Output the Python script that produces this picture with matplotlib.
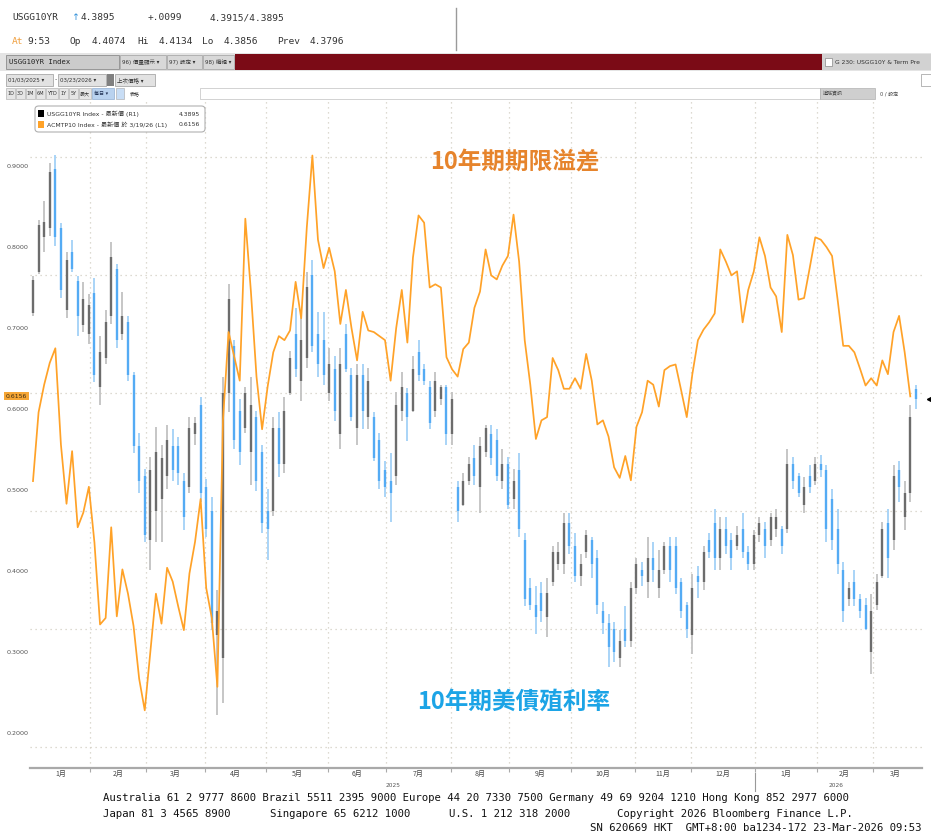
import numpy as np
import pandas as pd
import matplotlib
matplotlib.use('Agg')
import matplotlib.pyplot as plt
import matplotlib.transforms as mtransforms
from matplotlib.patches import Rectangle, FancyBboxPatch

plt.rcParams['font.family'] = ['DejaVu Sans', 'Noto Sans CJK TC']

# ---- data (one bar per two sessions) ----
first_day = '2025-01-03'
last_day = '2026-03-23'

yld_low = [4.530, 4.602, 4.640, 4.667, 4.650, 4.561, 4.527, 4.606, 4.496, 4.503,
           4.483, 4.418, 4.380, 4.449, 4.517, 4.476, 4.490, 4.421, 4.298, 4.230,
           4.148, 4.100, 4.148, 4.148, 4.237, 4.250, 4.244, 4.168, 4.230, 4.312,
           4.216, 4.155, 3.998, 3.854, 3.875, 4.367, 4.305, 4.278, 4.332, 4.244,
           4.233, 4.162, 4.117, 4.192, 4.257, 4.264, 4.397, 4.428, 4.387, 4.442,
           4.469, 4.428, 4.414, 4.387, 4.353, 4.305, 4.435, 4.353, 4.312, 4.339,
           4.339, 4.285, 4.237, 4.223, 4.182, 4.244, 4.353, 4.319, 4.367, 4.421,
           4.414, 4.339, 4.360, 4.380, 4.312, 4.312, 4.182, 4.209, 4.244, 4.244,
           4.196, 4.291, 4.278, 4.250, 4.237, 4.203, 4.203, 4.155, 4.039, 4.032,
           3.991, 4.011, 3.987, 4.073, 4.100, 4.093, 4.127, 4.080, 4.073, 4.121,
           4.087, 4.025, 3.991, 3.936, 3.943, 3.936, 3.970, 3.970, 4.059, 4.073,
           4.052, 4.080, 4.052, 4.093, 4.080, 4.059, 4.018, 3.984, 3.957, 4.052,
           4.066, 4.121, 4.100, 4.100, 4.127, 4.100, 4.134, 4.121, 4.100, 4.100,
           4.148, 4.121, 4.141, 4.155, 4.127, 4.162, 4.237, 4.223, 4.196, 4.230,
           4.244, 4.257, 4.148, 4.134, 4.093, 4.011, 4.039, 4.039, 4.018, 3.998,
           3.923, 4.032, 4.087, 4.087, 4.134, 4.216, 4.168, 4.216, 4.373]

yld_high = [4.599, 4.694, 4.725, 4.790, 4.804, 4.688, 4.640, 4.660, 4.599, 4.589,
            4.568, 4.595, 4.496, 4.541, 4.657, 4.619, 4.571, 4.530, 4.435, 4.332,
            4.271, 4.291, 4.343, 4.312, 4.346, 4.339, 4.326, 4.264, 4.360, 4.360,
            4.394, 4.254, 4.223, 4.066, 4.428, 4.585, 4.490, 4.390, 4.411, 4.428,
            4.370, 4.312, 4.237, 4.360, 4.367, 4.394, 4.472, 4.544, 4.537, 4.606,
            4.626, 4.537, 4.537, 4.476, 4.462, 4.476, 4.517, 4.442, 4.449, 4.449,
            4.442, 4.367, 4.332, 4.285, 4.298, 4.401, 4.435, 4.408, 4.462, 4.490,
            4.449, 4.421, 4.435, 4.414, 4.414, 4.401, 4.250, 4.264, 4.291, 4.312,
            4.326, 4.346, 4.346, 4.339, 4.305, 4.291, 4.271, 4.298, 4.162, 4.087,
            4.073, 4.080, 4.087, 4.141, 4.148, 4.196, 4.196, 4.162, 4.127, 4.168,
            4.155, 4.134, 4.046, 4.025, 4.011, 3.998, 4.039, 4.080, 4.121, 4.114,
            4.155, 4.148, 4.134, 4.148, 4.155, 4.155, 4.087, 4.046, 4.093, 4.107,
            4.141, 4.162, 4.203, 4.189, 4.189, 4.162, 4.175, 4.196, 4.141, 4.168,
            4.189, 4.182, 4.196, 4.203, 4.175, 4.305, 4.291, 4.264, 4.257, 4.278,
            4.291, 4.295, 4.278, 4.237, 4.203, 4.114, 4.080, 4.100, 4.059, 4.052,
            4.059, 4.093, 4.182, 4.203, 4.278, 4.285, 4.250, 4.380, 4.413]

yld_open = [4.535, 4.605, 4.665, 4.680, 4.780, 4.680, 4.540, 4.640, 4.590, 4.515,
            4.500, 4.570, 4.410, 4.460, 4.530, 4.610, 4.500, 4.520, 4.430, 4.310,
            4.260, 4.150, 4.200, 4.220, 4.260, 4.310, 4.310, 4.250, 4.240, 4.330,
            4.380, 4.240, 4.200, 3.990, 3.950, 4.400, 4.480, 4.370, 4.340, 4.300,
            4.360, 4.300, 4.200, 4.200, 4.340, 4.280, 4.400, 4.500, 4.420, 4.460,
            4.600, 4.500, 4.490, 4.400, 4.440, 4.330, 4.500, 4.430, 4.340, 4.430,
            4.360, 4.360, 4.320, 4.270, 4.250, 4.260, 4.370, 4.400, 4.370, 4.470,
            4.440, 4.410, 4.370, 4.390, 4.410, 4.330, 4.240, 4.210, 4.250, 4.290,
            4.240, 4.300, 4.330, 4.320, 4.250, 4.280, 4.220, 4.270, 4.150, 4.070,
            4.040, 4.060, 4.020, 4.080, 4.110, 4.110, 4.180, 4.140, 4.090, 4.130,
            4.150, 4.120, 4.030, 4.010, 4.000, 3.950, 4.000, 3.980, 4.070, 4.100,
            4.080, 4.120, 4.070, 4.100, 4.140, 4.140, 4.080, 4.040, 3.990, 4.090,
            4.080, 4.150, 4.180, 4.120, 4.170, 4.150, 4.140, 4.170, 4.130, 4.110,
            4.160, 4.170, 4.150, 4.170, 4.170, 4.170, 4.280, 4.260, 4.210, 4.260,
            4.250, 4.280, 4.270, 4.220, 4.170, 4.100, 4.050, 4.080, 4.050, 4.040,
            3.960, 4.040, 4.090, 4.180, 4.150, 4.270, 4.190, 4.230, 4.407]

yld_close = [4.592, 4.685, 4.690, 4.775, 4.665, 4.575, 4.625, 4.610, 4.530, 4.560,
             4.550, 4.430, 4.470, 4.520, 4.630, 4.490, 4.530, 4.430, 4.310, 4.250,
             4.160, 4.270, 4.300, 4.290, 4.320, 4.270, 4.265, 4.190, 4.340, 4.350,
             4.230, 4.170, 4.010, 4.030, 4.400, 4.560, 4.320, 4.300, 4.400, 4.380,
             4.250, 4.180, 4.170, 4.340, 4.280, 4.370, 4.460, 4.440, 4.490, 4.580,
             4.480, 4.450, 4.430, 4.450, 4.370, 4.450, 4.440, 4.360, 4.430, 4.370,
             4.420, 4.290, 4.250, 4.240, 4.230, 4.380, 4.410, 4.360, 4.440, 4.430,
             4.420, 4.350, 4.420, 4.410, 4.330, 4.390, 4.200, 4.250, 4.280, 4.260,
             4.310, 4.340, 4.290, 4.260, 4.280, 4.210, 4.250, 4.170, 4.050, 4.040,
             4.020, 4.030, 4.060, 4.130, 4.130, 4.180, 4.140, 4.090, 4.110, 4.160,
             4.110, 4.040, 4.010, 3.970, 3.960, 3.980, 3.980, 4.070, 4.110, 4.090,
             4.120, 4.100, 4.100, 4.140, 4.100, 4.070, 4.030, 4.000, 4.070, 4.080,
             4.130, 4.130, 4.120, 4.170, 4.140, 4.120, 4.160, 4.130, 4.110, 4.160,
             4.180, 4.140, 4.190, 4.190, 4.140, 4.280, 4.250, 4.230, 4.240, 4.240,
             4.280, 4.270, 4.170, 4.150, 4.110, 4.030, 4.070, 4.050, 4.030, 4.000,
             4.030, 4.080, 4.170, 4.120, 4.260, 4.240, 4.230, 4.360, 4.390]

# ACM 10y term premium, last print 3/19/26
term_premium = [0.511, 0.596, 0.630, 0.657, 0.675, 0.556, 0.483, 0.548, 0.454, 0.472,
                0.504, 0.435, 0.334, 0.342, 0.454, 0.344, 0.402, 0.372, 0.332, 0.267,
                0.228, 0.300, 0.372, 0.335, 0.404, 0.387, 0.356, 0.327, 0.397, 0.436,
                0.489, 0.379, 0.342, 0.257, 0.586, 0.695, 0.665, 0.635, 0.835, 0.745,
                0.640, 0.575, 0.628, 0.670, 0.690, 0.685, 0.697, 0.757, 0.712, 0.824,
                0.913, 0.809, 0.774, 0.799, 0.770, 0.705, 0.747, 0.700, 0.660, 0.720,
                0.697, 0.695, 0.690, 0.685, 0.635, 0.700, 0.747, 0.682, 0.787, 0.839,
                0.830, 0.750, 0.754, 0.750, 0.664, 0.649, 0.640, 0.674, 0.682, 0.725,
                0.745, 0.797, 0.765, 0.760, 0.777, 0.789, 0.840, 0.782, 0.685, 0.630,
                0.563, 0.586, 0.590, 0.663, 0.648, 0.625, 0.625, 0.638, 0.625, 0.668,
                0.635, 0.581, 0.586, 0.566, 0.528, 0.515, 0.542, 0.512, 0.578, 0.596,
                0.635, 0.630, 0.603, 0.648, 0.653, 0.655, 0.623, 0.590, 0.643, 0.685,
                0.698, 0.707, 0.718, 0.797, 0.782, 0.765, 0.770, 0.707, 0.747, 0.770,
                0.812, 0.789, 0.750, 0.739, 0.695, 0.815, 0.790, 0.735, 0.737, 0.774,
                0.812, 0.809, 0.800, 0.789, 0.735, 0.678, 0.678, 0.670, 0.650, 0.629,
                0.638, 0.629, 0.660, 0.643, 0.695, 0.715, 0.670, 0.6156]

tp_ticks = [0.2, 0.3, 0.4, 0.5, 0.6, 0.7, 0.8, 0.9]
yld_ticks = [3.8, 4.0, 4.2, 4.4, 4.6, 4.8]
last_yield = 4.3895
last_tp = 0.6156

W, H = 931, 832
MONO = 'DejaVu Sans Mono'
CJK = ['DejaVu Sans', 'Noto Sans CJK TC']


def box(x0, y0, x1, y1, **kw):
    fig.add_artist(Rectangle((x0 / W, 1 - y1 / H), (x1 - x0) / W, (y1 - y0) / H,
                             transform=fig.transFigure, **kw))


def label(x, y, s, **kw):
    kw.setdefault('va', 'center')
    fig.text(x / W, 1 - y / H, s, **kw)


# session calendar (Bloomberg squeezes out weekends)
days = pd.bdate_range(first_day, last_day)
bar_dates = pd.bdate_range(end=last_day, periods=len(yld_close), freq='2B')
pos = days.get_indexer(bar_dates).astype(float)
tp_pos = pos[:len(term_premium)]

lo = np.array(yld_low)
hi = np.array(yld_high)
op = np.array(yld_open)
cl = np.array(yld_close)
up = cl >= op

fig = plt.figure(figsize=(W / 100, H / 100), dpi=100)
ax = fig.add_axes([30 / W, 1 - 768 / H, 892 / W, 668 / H])
ax_tp = ax.twinx()

ax.set_xlim(-1.07, 318.2)
ax.set_ylim(3.764, 4.897)
ax_tp.set_ylim(0.1568, 0.9815)

# yield bars
ax.vlines(pos[up], lo[up], hi[up], color='#c2c2c2', lw=1.3)
ax.vlines(pos[up], op[up], cl[up], color='#6c6c6c', lw=1.7)
ax.vlines(pos[~up], lo[~up], hi[~up], color='#a3d1f7', lw=1.3)
ax.vlines(pos[~up], cl[~up], op[~up], color='#54abf4', lw=1.7)

# term premium
ax_tp.plot(tp_pos, term_premium, color='#ffa228', lw=1.25)

# month axis
per = days.to_period('M')
months = per.unique()
starts = np.array([np.where(per == m)[0][0] for m in months])
ends = np.array([np.where(per == m)[0][-1] for m in months])
centers = (starts + ends) / 2
ax.set_xticks(starts[1:] - 0.5)
ax.set_xticklabels([])
ax.set_xticks(centers, minor=True)
ax.set_xticklabels([f'{m.month}月' for m in months], minor=True,
                   fontsize=5, color='#444444', family=['Noto Sans CJK TC'])
ax.tick_params(axis='x', which='major', length=3, color='#aaaaaa', direction='out')
ax.tick_params(axis='x', which='minor', length=0, pad=1.5)

# year labels and year divider
xb = mtransforms.blended_transform_factory(ax.transData, ax.transAxes)
years = days.year
for yr in np.unique(years):
    idx = np.where(years == yr)[0]
    ax.text((idx[0] + idx[-1]) / 2, -0.026, str(yr), transform=xb,
            ha='center', va='center', fontsize=4.2, color='#555555')
for s, m in zip(starts, months):
    if m.month == 1 and s > 0:
        ax.plot([s - 0.5, s - 0.5], [-0.008, -0.034], transform=xb,
                color='#999999', lw=0.8, clip_on=False)

# grids
dot = dict(color='#d3cfc2', linestyle=(0, (1, 3)), lw=0.9)
ax.set_yticks(yld_ticks)
ax.yaxis.tick_right()
ax.tick_params(axis='y', length=0, labelright=False)
ax.grid(axis='y', **dot)
ax.grid(axis='x', which='major', **dot)
ax.set_axisbelow(True)

ax_tp.set_yticks(tp_ticks)
ax_tp.yaxis.tick_left()
ax_tp.set_yticklabels([f'{t:.4f}' for t in tp_ticks], fontsize=4.6, color='#555555')
ax_tp.tick_params(axis='y', length=0, pad=1)

for a in (ax, ax_tp):
    for side in ('top', 'left', 'right', 'bottom'):
        a.spines[side].set_visible(False)
ax.spines['bottom'].set_visible(True)
ax.spines['bottom'].set_color('#a9a9a9')
ax.spines['bottom'].set_linewidth(1.6)

# last value flags
yb = mtransforms.blended_transform_factory(ax_tp.transAxes, ax_tp.transData)
ax_tp.text(-0.003, last_tp, f'{last_tp:.4f}', transform=yb, ha='right', va='center',
           fontsize=4.4, color='#3a2a10',
           bbox=dict(boxstyle='square,pad=0.25', fc='#f6a635', ec='none'))
yb2 = mtransforms.blended_transform_factory(ax.transAxes, ax.transData)
ax.plot([1.008], [last_yield], marker='<', ms=3, color='black', transform=yb2,
        clip_on=False)

# chart titles
label(515, 163, '10年期期限溢差', color='#e6842c', fontsize=17, fontweight='bold',
      family=['Noto Sans CJK TC'], ha='center')
label(514, 702, '10年期美債殖利率', color='#1ca4e6', fontsize=17, fontweight='bold',
      family=['Noto Sans CJK TC'], ha='center')

# legend box
fig.add_artist(FancyBboxPatch((35 / W, 1 - 132 / H), 170 / W, 26 / H,
                              boxstyle='round,pad=0,rounding_size=0.004',
                              transform=fig.transFigure, fc='white', ec='#b0b0b0', lw=0.8))
box(38, 110, 44, 117, fc='black', ec='none')
box(38, 121, 44, 128, fc='#ffa228', ec='none')
label(47, 114, 'USGG10YR Index - 最新價 (R1)', fontsize=4.4, family=CJK, color='#333333')
label(200, 114, '4.3895', fontsize=4.4, color='#333333', ha='right')
label(47, 125, 'ACMTP10 Index - 最新價 於 3/19/26 (L1)', fontsize=4.4, family=CJK,
      color='#333333')
label(200, 125, '0.6156', fontsize=4.4, color='#333333', ha='right')

# ---- terminal header ----
hdr = dict(family=MONO, fontsize=6.8, color='#333333')
label(12, 18, 'USGG10YR', **hdr)
label(71, 18, '↑', family='DejaVu Sans', fontsize=6.8, color='#2f8fd8')
label(81, 18, '4.3895', **hdr)
label(148, 18, '+.0099', **hdr)
label(210, 18, '4.3915/4.3895', **hdr)
label(12, 41, 'At', family=MONO, fontsize=6.8, color='#f0a040')
label(27, 41, '9:53', **hdr)
label(70, 41, 'Op', **hdr)
label(92, 41, '4.4074', **hdr)
label(137, 41, 'Hi', **hdr)
label(159, 41, '4.4134', **hdr)
label(202, 41, 'Lo', **hdr)
label(224, 41, '4.3856', **hdr)
label(277, 41, 'Prev', **hdr)
label(310, 41, '4.3796', **hdr)
fig.add_artist(plt.Line2D([456 / W, 456 / W], [1 - 8 / H, 1 - 50 / H],
                          transform=fig.transFigure, color='#9a9a9a', lw=1))

# toolbar rows
box(0, 53, W, 71, fc='#e4e4e4', ec='none')
box(6, 55, 119, 69, fc='#cbcbcb', ec='#8c8c8c', lw=0.6)
label(9, 62, 'USGG10YR Index', family=MONO, fontsize=5.2, color='#222222')
for x0, x1, s in [(120, 166, '96) 價量顯示 ▾'), (167, 202, '97) 設定 ▾'), (203, 234, '98) 編輯 ▾')]:
    box(x0, 55, x1, 69, fc='#d8d8d8', ec='#a0a0a0', lw=0.5)
    label(x0 + 2, 62, s, family=CJK, fontsize=4.0, color='#333333')
box(235, 54, 822, 70, fc='#7b0b16', ec='none')
box(822, 54, W, 70, fc='#d2d2d2', ec='none')
box(825, 58, 832, 66, fc='white', ec='#888888', lw=0.5)
label(835, 62, 'G 230: USGG10Y & Term Pre', fontsize=4.3, color='#333333')

box(0, 71, W, 101, fc='white', ec='none')
box(6, 74, 53, 86, fc='#e2e2e2', ec='#9a9a9a', lw=0.5)
label(8, 80, '01/03/2025 ▾', fontsize=4.0, color='#333333')
label(55, 80, '-', fontsize=4.5, color='#333333')
box(58, 74, 106, 86, fc='#e2e2e2', ec='#9a9a9a', lw=0.5)
label(60, 80, '03/23/2026 ▾', fontsize=4.0, color='#333333')
box(107, 74, 114, 86, fc='#808080', ec='none')
box(115, 74, 155, 86, fc='#e2e2e2', ec='#9a9a9a', lw=0.5)
label(117, 80, '上次價格 ▾', family=CJK, fontsize=4.0, color='#333333')
box(921, 74, W, 86, fc='white', ec='#9a9a9a', lw=0.5)

bx = 6
for s, w in [('1D', 9), ('3D', 9), ('1M', 9), ('6M', 9), ('YTD', 12), ('1Y', 9),
             ('5Y', 9), ('最大', 12)]:
    box(bx, 88, bx + w, 99, fc='#e6e6e6', ec='#a5a5a5', lw=0.4)
    label(bx + w / 2, 93.5, s, family=CJK, fontsize=3.6, color='#333333', ha='center')
    bx += w + 1
box(bx, 88, bx + 22, 99, fc='#b9d2ef', ec='#7f9fc8', lw=0.4)
label(bx + 2, 93.5, '每日 ▾', family=CJK, fontsize=3.6, color='#223355')
box(bx + 24, 88, bx + 32, 99, fc='#c8ddf5', ec='#a5a5a5', lw=0.4)
label(bx + 38, 93.5, '表格', family=CJK, fontsize=3.6, color='#333333')
box(200, 88, 820, 99, fc='white', ec='#c0c0c0', lw=0.5)
box(820, 88, 875, 99, fc='#cfcfcf', ec='#a5a5a5', lw=0.4)
label(823, 93.5, '追蹤資訊', family=CJK, fontsize=3.6, color='#444444')
label(880, 93.5, '0 / 設定', family=CJK, fontsize=3.6, color='#444444')

# footer
foot = dict(family=MONO, fontsize=7.7, color='#111111')
label(103, 798, 'Australia 61 2 9777 8600 Brazil 5511 2395 9000 Europe 44 20 7330 7500 '
                'Germany 49 69 9204 1210 Hong Kong 852 2977 6000', **foot)
label(103, 814, 'Japan 81 3 4565 8900', **foot)
label(270, 814, 'Singapore 65 6212 1000', **foot)
label(449, 814, 'U.S. 1 212 318 2000', **foot)
label(617, 814, 'Copyright 2026 Bloomberg Finance L.P.', **foot)
label(590, 828, 'SN 620669 HKT  GMT+8:00 ba1234-172 23-Mar-2026 09:53', **foot)

fig.savefig('out.png', dpi=100, facecolor='white')
